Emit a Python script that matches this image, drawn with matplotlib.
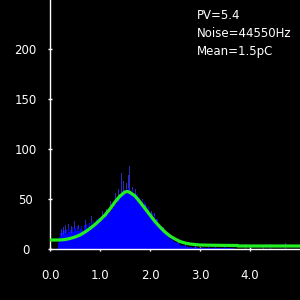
import numpy as np
import matplotlib
matplotlib.use('Agg')
import matplotlib.pyplot as plt

# histogram bin heights, bin width 0.02 starting at 0.0
bin_width = 0.02
counts = [
    0, 0, 0, 0, 0,   0, 0, 0, 6, 12,
    16, 13, 18, 14, 19,   16, 20, 15, 21, 17,
    19, 16, 22, 17, 20,   21, 18, 23, 20, 18,
    20, 23, 19, 18, 24,   21, 25, 20, 23, 26,
    23, 27, 22, 28, 24,   27, 30, 25, 31, 27,
    30, 28, 33, 30, 35,   35, 32, 38, 35, 40,
    41, 38, 44, 41, 46,   47, 45, 51, 48, 53,
    54, 51, 58, 54, 59,   57, 60, 55, 61, 58,
    58, 54, 59, 53, 56,   53, 50, 55, 49, 52,
    48, 45, 49, 44, 47,   41, 43, 38, 42, 37,
    35, 32, 36, 30, 33,   29, 26, 30, 23, 25,
    21, 19, 22, 17, 19,   16, 14, 14, 12, 11,
    10, 9, 10, 8, 7,   7, 6, 7, 5, 5,
    4, 3, 4, 3, 3,   3, 2, 3, 2, 2,
    2, 2, 1, 2, 2,   1, 2, 1, 1, 1,
    1, 1, 2, 1, 1,   1, 1, 1, 2, 1,
    1, 1, 1, 1, 1,   2, 1, 1, 1, 1,
    1, 1, 1, 1, 2,   1, 1, 1, 1, 1,
    1, 1, 1, 1, 0,   0, 0, 0, 0, 0,
]

# thin spikes (darker blue) sticking out of the histogram
spike_x = [0.22, 0.26, 0.30, 0.36, 0.42, 0.48, 0.56, 0.62, 0.70, 0.82, 0.86,
           0.96, 1.04, 1.12, 1.20, 1.30, 1.36, 1.42, 1.46, 1.52, 1.56, 1.58,
           1.64, 1.70, 1.78, 1.84, 1.90, 1.96, 2.02, 2.08, 2.12, 2.18, 2.26,
           2.36, 2.44, 2.56, 2.70, 2.90, 3.30, 3.90, 4.26, 4.40, 4.70]
spike_h = [20, 22, 24, 25, 23, 28, 24, 22, 29, 33, 26,
           30, 38, 40, 48, 56, 60, 76, 68, 66, 74, 83,
           62, 60, 52, 50, 45, 40, 38, 36, 30, 24, 22,
           14, 10, 8, 5, 4, 3, 5, 4, 5, 6]

# fitted curve
fit_x = [0.0, 0.1, 0.2, 0.3, 0.4, 0.5, 0.6, 0.7, 0.8, 0.9, 1.0, 1.1, 1.2, 1.3,
         1.4, 1.5, 1.55, 1.6, 1.7, 1.8, 1.9, 2.0, 2.1, 2.2, 2.3, 2.4, 2.5,
         2.6, 2.7, 2.8, 2.9, 3.0, 3.2, 3.5, 3.75, 3.76, 4.0, 4.5, 5.0]
fit_y = [9, 9, 9, 9.5, 10.5, 12, 14, 17, 20.5, 24.5, 29, 34, 40, 47,
         53, 57, 57.5, 56.5, 53, 47, 40.5, 34, 27.5, 22, 17, 13, 10,
         7.5, 6, 5, 4.5, 4, 3.8, 3.6, 3.5, 3, 3, 3, 3]

info = ['PV=5.4', 'Noise=44550Hz', 'Mean=1.5pC']

fig = plt.figure(figsize=(3, 3), dpi=100, facecolor='black')
ax = fig.add_axes([50/300, 51/300, 250/300, 249/300])
ax.set_facecolor('black')

edges = np.arange(len(counts) + 1) * bin_width
# spikes go behind the filled histogram so only their tips show
ax.bar(spike_x, spike_h, width=0.02, align='edge', color='#2a2ac0',
       linewidth=0, zorder=1)
ax.stairs(counts, edges, fill=True, color='#0000ff', linewidth=0, zorder=2)
ax.plot(fit_x, fit_y, color='#22ee22', linewidth=2.3, zorder=3)

ax.set_xlim(0, 5)
ax.set_ylim(0, 249)
ax.set_xticks([0, 1, 2, 3, 4])
ax.set_xticklabels(['0.0', '1.0', '2.0', '3.0', '4.0'])
ax.set_yticks([0, 50, 100, 150, 200])

for s in ['top', 'right']:
    ax.spines[s].set_visible(False)
for s in ['left', 'bottom']:
    ax.spines[s].set_color('white')
    ax.spines[s].set_linewidth(1.0)

ax.tick_params(colors='white', direction='inout', length=3, width=1, labelsize=8.5)
ax.tick_params(axis='x', pad=13)
ax.tick_params(axis='y', pad=16)
for lbl in ax.get_yticklabels():
    lbl.set_horizontalalignment('center')

for i, t in enumerate(info):
    fig.text(197/300, 1 - (15.5 + 18*i)/300, t, color='white', fontsize=8.5,
             va='center', ha='left')

fig.savefig('out.png', dpi=100, facecolor='black')
